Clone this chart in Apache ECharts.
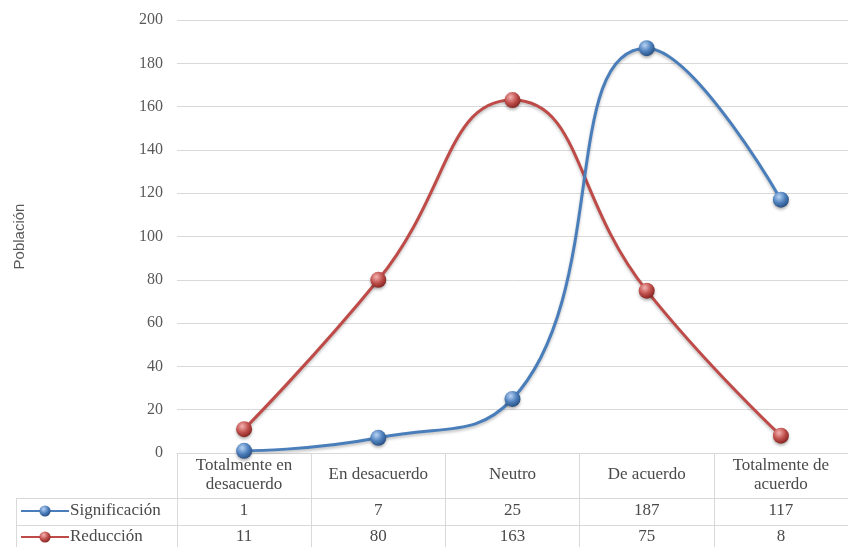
<!DOCTYPE html>
<html>
<head>
<meta charset="utf-8">
<script src="https://cdn.jsdelivr.net/npm/echarts@6/dist/echarts.min.js"></script>
<style>html,body{margin:0;padding:0;background:#fff}#c{width:848px;height:547px}</style>
</head>
<body>
<div id="c"></div>
<script>
var categories = ['Totalmente en\ndesacuerdo', 'En desacuerdo', 'Neutro', 'De acuerdo', 'Totalmente de\nacuerdo'];
var seriesNames = ['Significación', 'Reducción'];
var significacion = [1, 7, 25, 187, 117];
var reduccion = [11, 80, 163, 75, 8];
var yTicks = {min: 0, max: 200, interval: 20};
var yName = 'Población';

var SERIF = '"Liberation Serif", "DejaVu Serif", serif';
var GRID_LEFT = 177, GRID_TOP = 20, GRID_BOTTOM = 94;
var LINE_C = '#d9d9d9';
var TXT = '#4a4a4a';

function ball(light, mid, dark) {
  return {type: 'radial', x: 0.38, y: 0.32, r: 0.7,
    colorStops: [{offset: 0, color: light}, {offset: 0.55, color: mid}, {offset: 1, color: dark}]};
}

var chart = echarts.init(document.getElementById('c'), null, {renderer: 'canvas'});
chart.setOption({
  animation: false,
  backgroundColor: '#fff',
  grid: {left: GRID_LEFT, right: -2, top: GRID_TOP, bottom: GRID_BOTTOM, containLabel: false},
  legend: {
    orient: 'vertical', left: 20, top: 501, height: 80, padding: 0, itemGap: 6, itemWidth: 48, itemHeight: 14,
    textStyle: {fontFamily: SERIF, fontSize: 17, lineHeight: 20, color: TXT, padding: [0, 0, 0, -4]},
    data: seriesNames
  },
  xAxis: [
    {
      type: 'category', data: categories, boundaryGap: true, position: 'bottom',
      axisLine: {show: true, lineStyle: {color: LINE_C, width: 1}},
      axisTick: {show: true, length: 94, interval: 0, lineStyle: {color: LINE_C}},
      axisLabel: {interval: 0, margin: 22, verticalAlign: 'middle', lineHeight: 19,
        fontFamily: SERIF, fontSize: 17, color: TXT}
    },
    {
      type: 'category', data: significacion.map(String), position: 'bottom', offset: 45,
      axisLine: {show: true, lineStyle: {color: LINE_C}},
      axisTick: {show: false},
      axisLabel: {interval: 0, margin: 13, verticalAlign: 'middle', fontFamily: SERIF, fontSize: 17, color: TXT}
    },
    {
      type: 'category', data: reduccion.map(String), position: 'bottom', offset: 72,
      axisLine: {show: true, lineStyle: {color: LINE_C}},
      axisTick: {show: false},
      axisLabel: {interval: 0, margin: 12, verticalAlign: 'middle', fontFamily: SERIF, fontSize: 17, color: TXT}
    }
  ],
  yAxis: {
    type: 'value', min: yTicks.min, max: yTicks.max, interval: yTicks.interval,
    name: yName, nameLocation: 'middle', nameGap: 150, nameRotate: 90,
    nameTextStyle: {fontFamily: '"Liberation Sans", "Open Sans", sans-serif', fontSize: 15, color: '#595959'},
    axisLine: {show: false}, axisTick: {show: false},
    axisLabel: {margin: 14, fontFamily: SERIF, fontSize: 16, color: '#595959'},
    splitLine: {lineStyle: {color: LINE_C, width: 1}}
  },
  series: [
    {
      name: seriesNames[0], type: 'line', data: significacion, smooth: 0.5,
      symbol: 'circle', symbolSize: 16,
      lineStyle: {color: '#4a7ebb', width: 3, shadowColor: 'rgba(0,0,0,0.25)', shadowBlur: 3, shadowOffsetY: 2},
      itemStyle: {color: ball('#b9d3f5', '#4f81bd', '#274f82'), shadowColor: 'rgba(0,0,0,0.3)', shadowBlur: 3, shadowOffsetY: 2},
      z: 3
    },
    {
      name: seriesNames[1], type: 'line', data: reduccion, smooth: 0.5,
      symbol: 'circle', symbolSize: 16,
      lineStyle: {color: '#be4b48', width: 3, shadowColor: 'rgba(0,0,0,0.25)', shadowBlur: 3, shadowOffsetY: 2},
      itemStyle: {color: ball('#f4b3b1', '#c0504d', '#842522'), shadowColor: 'rgba(0,0,0,0.3)', shadowBlur: 3, shadowOffsetY: 2},
      z: 2
    }
  ],
  graphic: [
    {type: 'line', shape: {x1: 16, y1: 498.5, x2: GRID_LEFT, y2: 498.5}, style: {stroke: LINE_C, lineWidth: 1}, silent: true},
    {type: 'line', shape: {x1: 16, y1: 525.5, x2: GRID_LEFT, y2: 525.5}, style: {stroke: LINE_C, lineWidth: 1}, silent: true},
    {type: 'line', shape: {x1: 16.5, y1: 498, x2: 16.5, y2: 547}, style: {stroke: LINE_C, lineWidth: 1}, silent: true}
  ]
});
</script>
</body>
</html>
